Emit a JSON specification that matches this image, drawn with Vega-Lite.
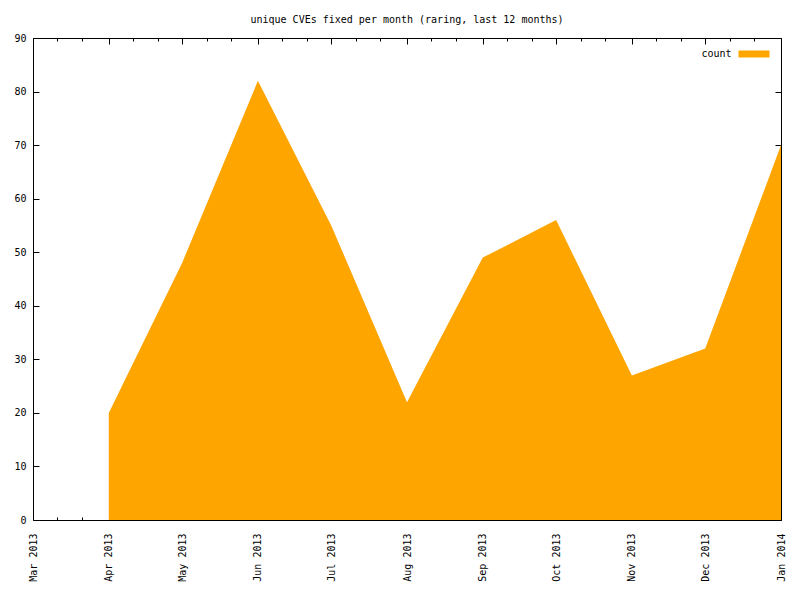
{
  "$schema": "https://vega.github.io/schema/vega-lite/v6.json",
  "width": 748,
  "height": 482,
  "autosize": "none",
  "padding": {"left": 33, "top": 38, "right": 19, "bottom": 80},
  "background": "white",
  "title": {
    "text": "unique CVEs fixed per month (raring, last 12 months)",
    "font": "DejaVu Sans Mono",
    "fontSize": 10,
    "fontWeight": "normal",
    "color": "black",
    "anchor": "middle",
    "offset": 8
  },
  "data": {
    "values": [
      {"month": "2013-04-01", "count": 20},
      {"month": "2013-05-01", "count": 48},
      {"month": "2013-06-01", "count": 82},
      {"month": "2013-07-01", "count": 55},
      {"month": "2013-08-01", "count": 22},
      {"month": "2013-09-01", "count": 49},
      {"month": "2013-10-01", "count": 56},
      {"month": "2013-11-01", "count": 27},
      {"month": "2013-12-01", "count": 32},
      {"month": "2014-01-01", "count": 70}
    ]
  },
  "layer": [
    {
      "mark": {"type": "area", "interpolate": "linear", "opacity": 1},
      "encoding": {
        "x": {
          "field": "month", "type": "temporal",
          "scale": {"type": "utc", "domain": [{"year": 2013, "month": 3, "date": 1, "utc": true}, {"year": 2014, "month": 1, "date": 1, "utc": true}], "nice": false},
          "axis": {
            "orient": "bottom", "title": null, "format": "%b %Y",
            "tickCount": {"interval": "month", "step": 1},
            "labelAngle": 270, "labelAlign": "right", "labelBaseline": "middle",
            "labelPadding": 19, "tickSize": -6, "labelFlush": false, "labelOverlap": false, "labelBound": false
          }
        },
        "y": {
          "field": "count", "type": "quantitative",
          "scale": {"domain": [0, 90], "nice": false, "zero": true},
          "axis": {"orient": "left", "title": null, "values": [0,10,20,30,40,50,60,70,80,90], "tickSize": -6, "labelPadding": 13}
        },
        "color": {
          "datum": "count",
          "scale": {"range": ["#ffa500"]},
          "legend": {
            "title": null, "orient": "top-right", "offset": 11, "padding": 0,
            "symbolType": "M-3.1,-0.7L3.1,-0.7L3.1,0.7L-3.1,0.7Z",
            "symbolSize": 100, "symbolStrokeWidth": 0, "symbolOpacity": 1,
            "labelAlign": "right", "labelOffset": -27.5,
            "labelFont": "DejaVu Sans Mono", "labelFontSize": 10, "labelColor": "black"
          }
        }
      }
    },
    {
      "mark": {"type": "point", "opacity": 0},
      "encoding": {
        "x": {"field": "month", "type": "temporal",
          "axis": {"orient": "top", "title": null, "labels": false, "tickCount": {"interval": "month", "step": 1}, "tickSize": -6}},
        "y": {"field": "count", "type": "quantitative",
          "axis": {"orient": "right", "title": null, "labels": false, "values": [0,10,20,30,40,50,60,70,80,90], "tickSize": -6}}
      }
    },
    {
      "mark": {"type": "point", "opacity": 0},
      "encoding": {
        "x": {"field": "month", "type": "temporal",
          "axis": {"orient": "bottom", "title": null, "labels": false, "domain": false, "tickSize": -3,
            "values": [
              {"year": 2013, "month": 3, "date": 11, "utc": true}, {"year": 2013, "month": 3, "date": 21, "utc": true},
              {"year": 2013, "month": 4, "date": 11, "utc": true}, {"year": 2013, "month": 4, "date": 21, "utc": true},
              {"year": 2013, "month": 5, "date": 11, "utc": true}, {"year": 2013, "month": 5, "date": 21, "utc": true},
              {"year": 2013, "month": 6, "date": 11, "utc": true}, {"year": 2013, "month": 6, "date": 21, "utc": true},
              {"year": 2013, "month": 7, "date": 11, "utc": true}, {"year": 2013, "month": 7, "date": 21, "utc": true},
              {"year": 2013, "month": 8, "date": 11, "utc": true}, {"year": 2013, "month": 8, "date": 21, "utc": true},
              {"year": 2013, "month": 9, "date": 11, "utc": true}, {"year": 2013, "month": 9, "date": 21, "utc": true},
              {"year": 2013, "month": 10, "date": 11, "utc": true}, {"year": 2013, "month": 10, "date": 21, "utc": true},
              {"year": 2013, "month": 11, "date": 11, "utc": true}, {"year": 2013, "month": 11, "date": 21, "utc": true},
              {"year": 2013, "month": 12, "date": 11, "utc": true}, {"year": 2013, "month": 12, "date": 21, "utc": true}
            ]}}
      }
    },
    {
      "mark": {"type": "point", "opacity": 0},
      "encoding": {
        "x": {"field": "month", "type": "temporal",
          "axis": {"orient": "top", "title": null, "labels": false, "domain": false, "tickSize": -3,
            "values": [
              {"year": 2013, "month": 3, "date": 11, "utc": true}, {"year": 2013, "month": 3, "date": 21, "utc": true},
              {"year": 2013, "month": 4, "date": 11, "utc": true}, {"year": 2013, "month": 4, "date": 21, "utc": true},
              {"year": 2013, "month": 5, "date": 11, "utc": true}, {"year": 2013, "month": 5, "date": 21, "utc": true},
              {"year": 2013, "month": 6, "date": 11, "utc": true}, {"year": 2013, "month": 6, "date": 21, "utc": true},
              {"year": 2013, "month": 7, "date": 11, "utc": true}, {"year": 2013, "month": 7, "date": 21, "utc": true},
              {"year": 2013, "month": 8, "date": 11, "utc": true}, {"year": 2013, "month": 8, "date": 21, "utc": true},
              {"year": 2013, "month": 9, "date": 11, "utc": true}, {"year": 2013, "month": 9, "date": 21, "utc": true},
              {"year": 2013, "month": 10, "date": 11, "utc": true}, {"year": 2013, "month": 10, "date": 21, "utc": true},
              {"year": 2013, "month": 11, "date": 11, "utc": true}, {"year": 2013, "month": 11, "date": 21, "utc": true},
              {"year": 2013, "month": 12, "date": 11, "utc": true}, {"year": 2013, "month": 12, "date": 21, "utc": true}
            ]}}
      }
    }
  ],
  "resolve": {"axis": {"x": "independent", "y": "independent"}},
  "config": {
    "view": {"stroke": null},
    "axis": {
      "grid": false,
      "domainColor": "black", "domainWidth": 1,
      "tickColor": "black", "tickWidth": 1,
      "labelColor": "black", "labelFont": "DejaVu Sans Mono", "labelFontSize": 10
    }
  }
}
